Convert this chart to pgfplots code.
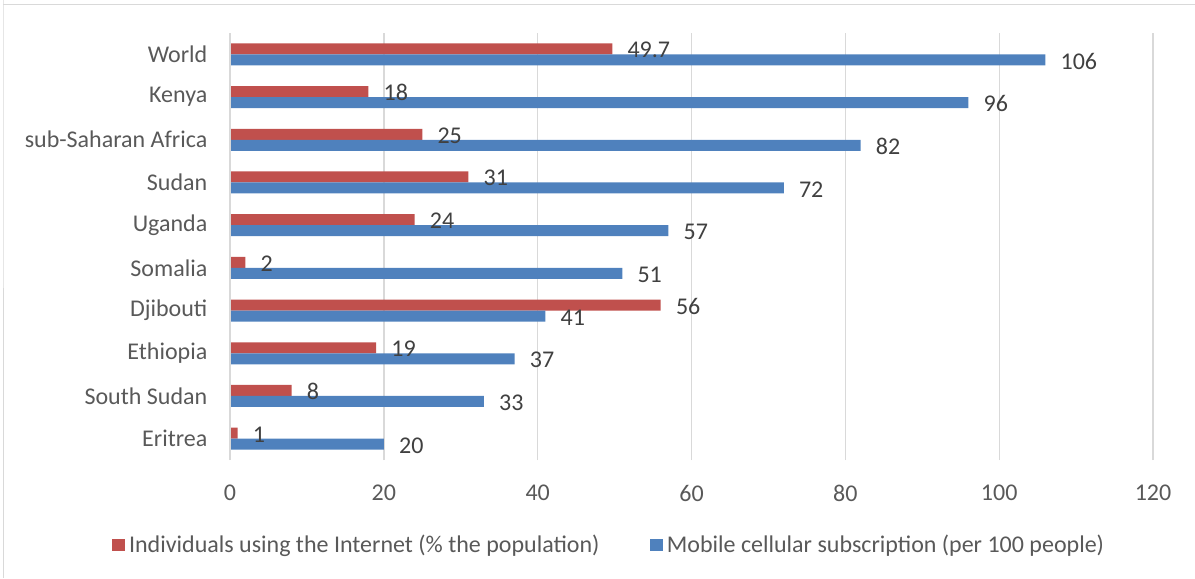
\documentclass[border=0pt]{standalone}
\usepackage{pgfplots}
\pgfplotsset{compat=1.18}
\usepackage{fontspec}
\setmainfont{Carlito}
\definecolor{netred}{HTML}{C0504D}
\definecolor{mobblue}{HTML}{4F81BD}
\definecolor{gridgray}{HTML}{D9D9D9}
\definecolor{ticktext}{HTML}{595959}
\definecolor{labtext}{HTML}{404040}
\begin{document}
\begin{tikzpicture}
% page frame (picture is 1195x578 px, 1px = 0.75pt)
\path[use as bounding box] (0,0) rectangle (896.25pt,-433.5pt);
\draw[gridgray, line width=0.75pt] (2.25pt,2pt) -- (2.25pt,-3pt) -- (2.25pt,-433.5pt);
\draw[gridgray, line width=0.75pt] (2.25pt,-3pt) -- (900pt,-3pt);
\begin{axis}[
    at={(172.5pt,-345pt)}, anchor=south west,
    scale only axis,
    width=692.25pt, height=320.25pt,
    xbar, bar width=8.25pt,
    xmin=0, xmax=120, xtick={0,20,...,120},
    ymin=-0.5, ymax=9.5, ytick={0,...,9},
    yticklabels={Eritrea, South Sudan, Ethiopia, Djibouti, Somalia, Uganda, Sudan, sub-Saharan Africa, Kenya, World},
    axis line style={draw=none},
    y axis line style={draw=none},
    xmajorgrids, major grid style={gridgray, line width=1pt},
    major tick length=0pt,
    tick label style={font=\fontsize{18}{21}\selectfont, text=ticktext},
    xticklabel style={yshift=-15.5pt},
    yticklabel style={xshift=-13.5pt},
    /pgf/number format/assume math mode=true,
    point meta=x,
    nodes near coords,
    nodes near coords align={horizontal},
    every node near coord/.append style={font=\fontsize{18}{21}\selectfont, text=labtext, anchor=west, inner sep=0pt, xshift=11.25pt, yshift=-1pt},
    legend style={draw=none, fill=none, at={(0.412,-0.199)}, anchor=center,
        font=\fontsize{18}{21}\selectfont, text=ticktext,
        legend columns=2, /tikz/every even column/.append style={column sep=35pt},
        /tikz/every odd column/.append style={column sep=0pt},
        nodes={inner xsep=3pt}},
    legend image code/.code={\fill[#1] (0pt,-4.75pt) rectangle (9.5pt,4.75pt);},
]
\addplot[fill=netred, draw=none, bar shift=4.125pt] coordinates {
    (1,0) (8,1) (19,2) (56,3) (2,4) (24,5) (31,6) (25,7) (18,8) (49.7,9)
};
\addplot[fill=mobblue, draw=none, bar shift=-4.125pt] coordinates {
    (20,0) (33,1) (37,2) (41,3) (51,4) (57,5) (72,6) (82,7) (96,8) (106,9)
};
\draw[gridgray, line width=1pt] (axis cs:0,-0.5) -- (axis cs:0,9.5);
\legend{Individuals using the Internet (\% the population), Mobile cellular subscription (per 100 people)}
\end{axis}
\end{tikzpicture}
\end{document}
